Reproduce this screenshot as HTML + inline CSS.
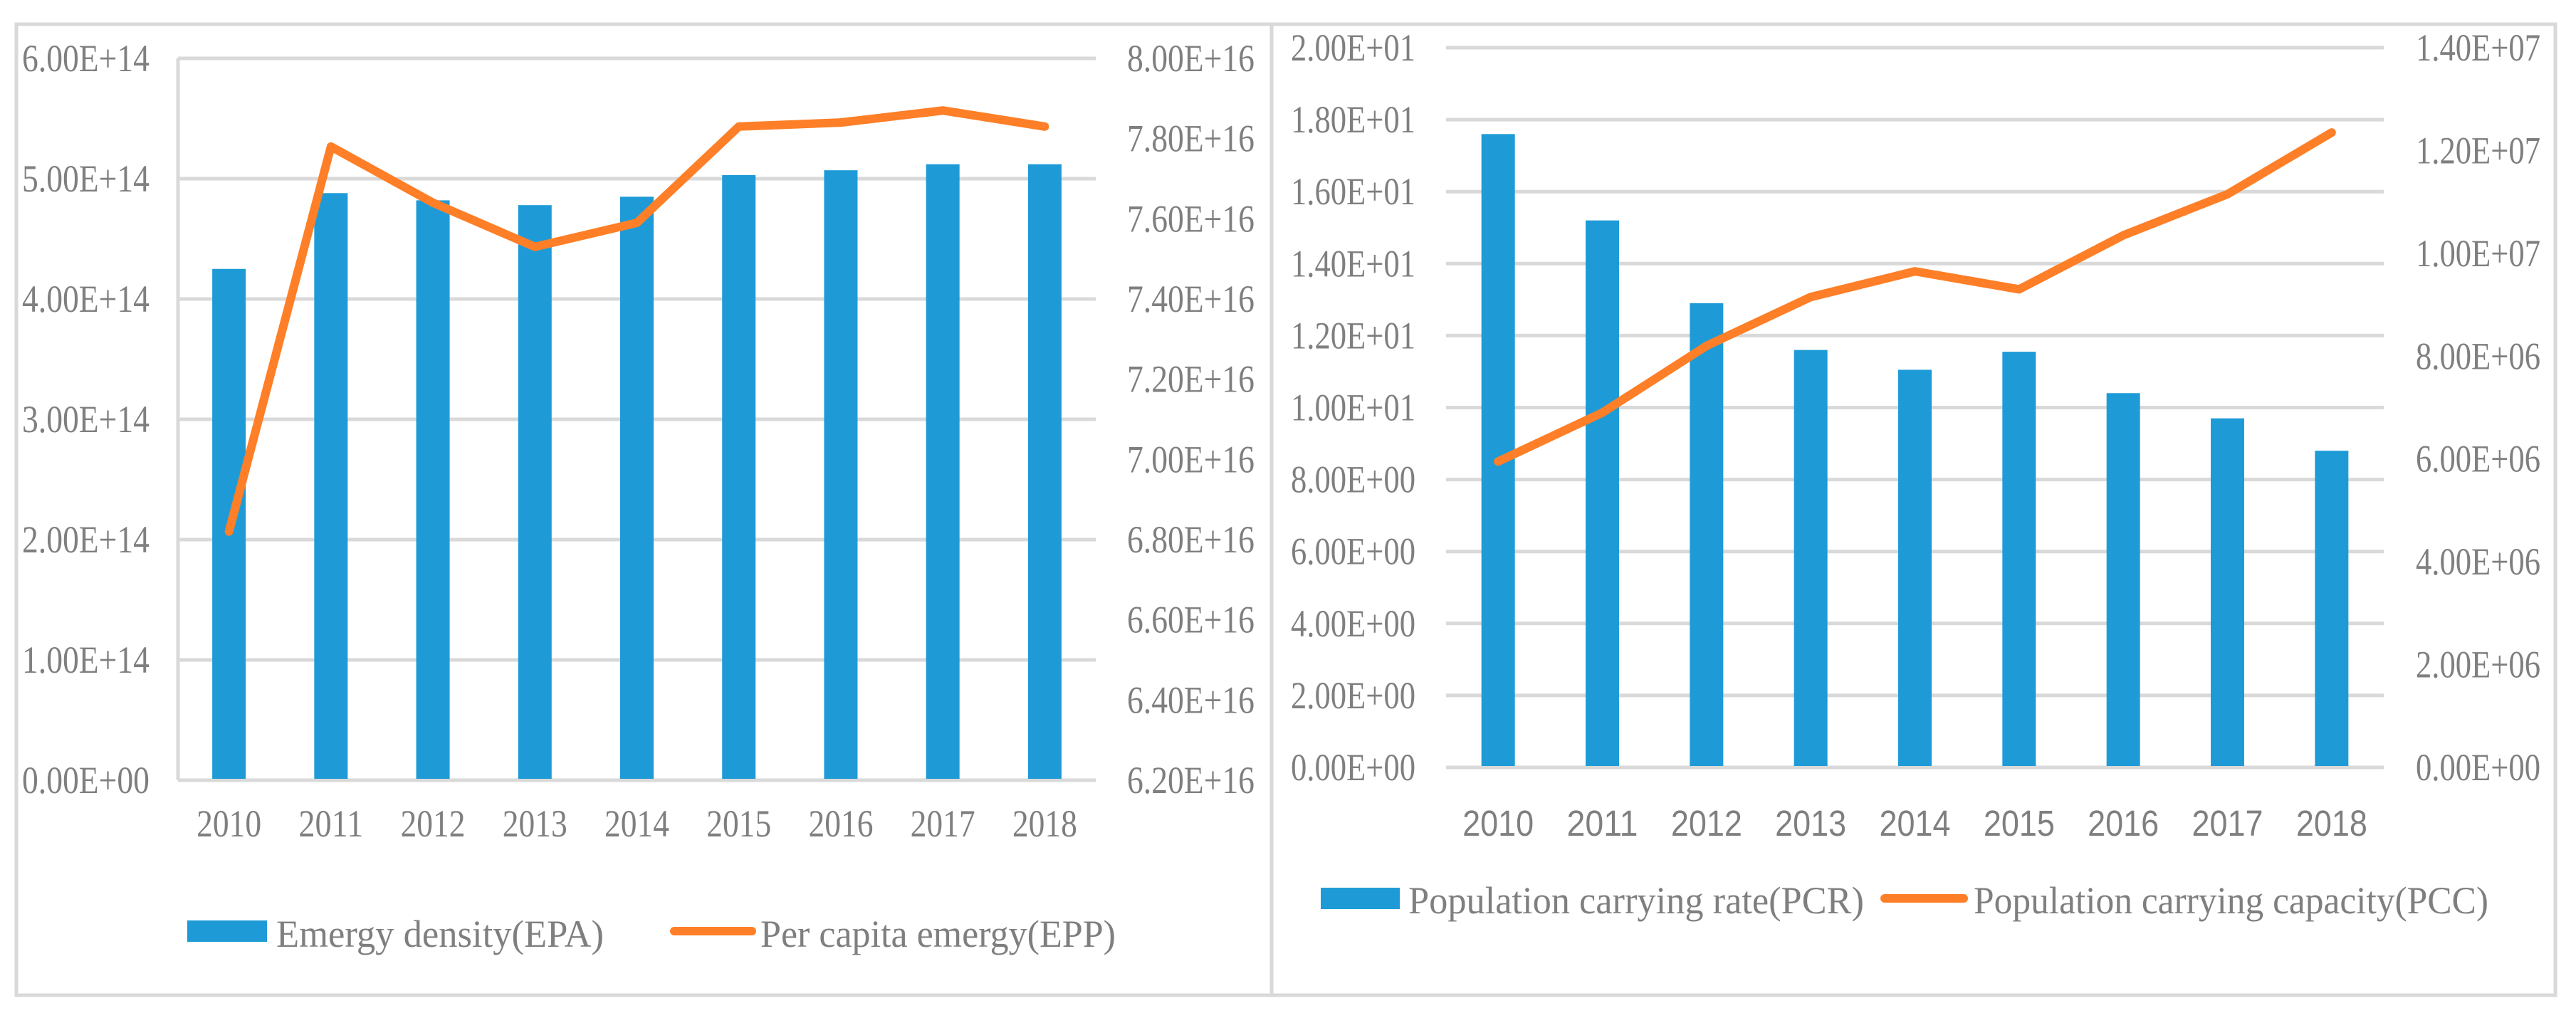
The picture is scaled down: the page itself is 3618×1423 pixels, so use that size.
<!DOCTYPE html>
<html><head><meta charset="utf-8"><style>
html,body{margin:0;padding:0;background:#fff;}
svg{display:block;}
text{fill:#7f7f7f;}
.serif{font-family:"Liberation Serif",serif;font-size:54px;}
.sans{font-family:"Liberation Sans",sans-serif;font-size:51px;}
</style></head><body>
<svg id="chart" xmlns="http://www.w3.org/2000/svg" width="3618" height="1423" viewBox="0 0 3618 1423">
<rect x="23" y="34" width="3566" height="1364" fill="#fff" stroke="#d9d9d9" stroke-width="5"/>
<line x1="1786" y1="34" x2="1786" y2="1398" stroke="#d9d9d9" stroke-width="5"/>
<g id="left"></g>
<g id="right"></g>
</svg>
<script>
const years = ["2010","2011","2012","2013","2014","2015","2016","2017","2018"];
const epaValues = [4.25, 4.88, 4.82, 4.78, 4.85, 5.03, 5.07, 5.12, 5.12]; // E+14
const eppValues = [6.82, 7.78, 7.64, 7.53, 7.59, 7.83, 7.84, 7.87, 7.83]; // E+16
const pcrValues = [17.6, 15.2, 12.9, 11.6, 11.05, 11.55, 10.4, 9.7, 8.8];
const pccValues = [5.95, 6.9, 8.2, 9.15, 9.65, 9.3, 10.35, 11.15, 12.35]; // E+06
const epaTicks = ["0.00E+00","1.00E+14","2.00E+14","3.00E+14","4.00E+14","5.00E+14","6.00E+14"];
const eppTicks = ["6.20E+16","6.40E+16","6.60E+16","6.80E+16","7.00E+16","7.20E+16","7.40E+16","7.60E+16","7.80E+16","8.00E+16"];
const pcrTicks = ["0.00E+00","2.00E+00","4.00E+00","6.00E+00","8.00E+00","1.00E+01","1.20E+01","1.40E+01","1.60E+01","1.80E+01","2.00E+01"];
const pccTicks = ["0.00E+00","2.00E+06","4.00E+06","6.00E+06","8.00E+06","1.00E+07","1.20E+07","1.40E+07"];

const NS="http://www.w3.org/2000/svg";
function mk(parent,tag,attrs,txt){const e=document.createElementNS(NS,tag);for(const k in attrs)e.setAttribute(k,attrs[k]);if(txt!==undefined)e.textContent=txt;parent.appendChild(e);return e;}
const BLUE="#1e9bd7", ORANGE="#fe7f27", GRID="#d9d9d9";

function panel(g, cfg){
  const {x0,x1,yTop,yBot,leftMin,leftMax,rightMin,rightMax,bars,line,leftTicks,rightTicks,leftLabelX,leftLabelW,rightLabelX,rightLabelW,yearCls,yearW,yearBase,leftAxisLine,legend}=cfg;
  const step=(x1-x0)/years.length;
  const xc=i=>x0+step*(i+0.5);
  const yL=v=>yBot-(v-leftMin)/(leftMax-leftMin)*(yBot-yTop);
  const yR=v=>yBot-(v-rightMin)/(rightMax-rightMin)*(yBot-yTop);
  leftTicks.forEach((t,i)=>{
    const y=yBot-(yBot-yTop)*i/(leftTicks.length-1);
    const gl=mk(g,'line',{x1:x0,x2:x1,y1:y,y2:y,stroke:GRID,'stroke-width':5});
    
    
    const tx=mk(g,'text',{x:leftLabelX,y:y+18,class:'serif',textLength:leftLabelW,lengthAdjust:'spacingAndGlyphs'},t);
    
    
  });
  rightTicks.forEach((t,i)=>{
    const y=yBot-(yBot-yTop)*i/(rightTicks.length-1);
    const tx=mk(g,'text',{x:rightLabelX,y:y+18,class:'serif',textLength:rightLabelW,lengthAdjust:'spacingAndGlyphs'},t);
    
    
  });
  if(leftAxisLine){const l=mk(g,'line',{x1:x0,x2:x0,y1:yTop,y2:yBot,stroke:GRID,'stroke-width':5});
    
    }
  bars.forEach((v,i)=>{
    const r=mk(g,'rect',{x:xc(i)-23.5,width:47,y:yL(v),height:yBot-yL(v)-2,fill:BLUE});
    
    
  });
  const pts=line.map((v,i)=>xc(i)+','+yR(v)).join(' ');
  const pl=mk(g,'polyline',{points:pts,fill:'none',stroke:ORANGE,'stroke-width':12,'stroke-linejoin':'round','stroke-linecap':'round'});
  
  
  years.forEach((yr,i)=>{
    const tx=mk(g,'text',{x:xc(i),y:yearBase,class:yearCls,'text-anchor':'middle',textLength:yearW,lengthAdjust:'spacingAndGlyphs'},yr);
    
    
  });
  const L=legend;
  const lr=mk(g,'rect',{x:L.rx,y:L.ry,width:L.rw,height:30,fill:BLUE});
  
  
  const lt=mk(g,'text',{x:L.t1x,y:L.base,class:'serif',textLength:L.t1w,lengthAdjust:'spacingAndGlyphs'},L.t1);
  
  
  const ll=mk(g,'line',{x1:L.lx1,x2:L.lx2,y1:L.ly,y2:L.ly,stroke:ORANGE,'stroke-width':12,'stroke-linecap':'round'});
  
  
  const lt2=mk(g,'text',{x:L.t2x,y:L.base,class:'serif',textLength:L.t2w,lengthAdjust:'spacingAndGlyphs'},L.t2);
  
  
}

panel(document.getElementById('left'),{
  x0:250,x1:1539,yTop:82,yBot:1096,leftMin:0,leftMax:6,rightMin:6.2,rightMax:8.0,
  bars:epaValues,line:eppValues,leftTicks:epaTicks,rightTicks:eppTicks,
  leftLabelX:31,leftLabelW:179,rightLabelX:1583,rightLabelW:179,
  yearCls:'serif',yearW:91,yearBase:1175,leftAxisLine:true,
  legend:{rx:263,ry:1293,rw:112,t1x:388,t1w:460,t1:'Emergy density(EPA)',lx1:947,lx2:1056,ly:1308,t2x:1068,t2w:499,t2:'Per capita emergy(EPP)',base:1330}
});
panel(document.getElementById('right'),{
  x0:2031,x1:3348,yTop:67,yBot:1078,leftMin:0,leftMax:20,rightMin:0,rightMax:14,
  bars:pcrValues,line:pccValues,leftTicks:pcrTicks,rightTicks:pccTicks,
  leftLabelX:1813,leftLabelW:175,rightLabelX:3393,rightLabelW:175,
  yearCls:'sans',yearW:100,yearBase:1174,leftAxisLine:false,
  legend:{rx:1855,ry:1247,rw:111,t1x:1978,t1w:640,t1:'Population carrying rate(PCR)',lx1:2647,lx2:2758,ly:1262,t2x:2772,t2w:723,t2:'Population carrying capacity(PCC)',base:1283}
});
</script>
</body></html>
